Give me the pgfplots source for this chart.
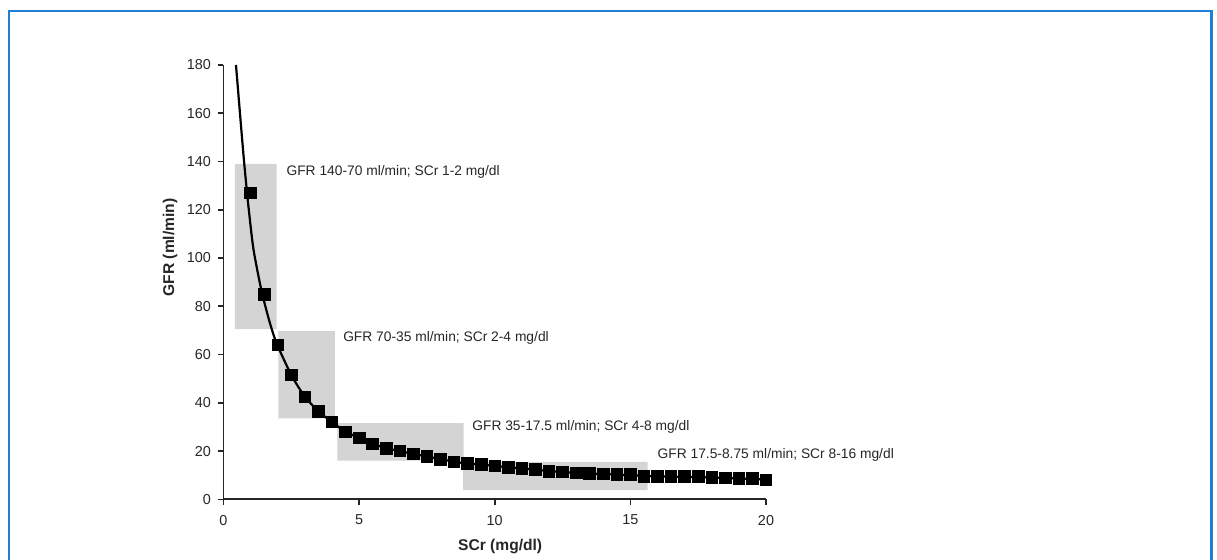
\documentclass[border=0pt]{standalone}
\usepackage{pgfplots}
\pgfplotsset{compat=1.18}
\usepackage{fontspec}
\setmainfont{Liberation Sans}
\definecolor{framblue}{HTML}{1F7FD6}
\begin{document}
\begin{tikzpicture}
\begin{axis}[
  at={(111.75pt,29.85pt)}, anchor=south west,
  scale only axis, width=271.25pt, height=217.15pt,
  xmin=0, xmax=20, ymin=0, ymax=180,
  axis lines=left, axis line style={-, line width=0.9pt, black!85},
  xtick={0,5,10,15,20}, ytick={0,20,...,180},
  tick align=outside, major tick length=2.8pt,
  tick style={line width=0.8pt, black!85},
  tick label style={font=\fontsize{7.2}{8}\selectfont, text=black!85},
  /pgf/number format/assume math mode=true,
  xticklabel style={yshift=-1.5pt},
  xlabel={\textbf{SCr (mg/dl)}},
  ylabel={\textbf{GFR (ml/min)}},
  label style={font=\fontsize{7.8}{9}\selectfont\bfseries, text=black!85},
  xlabel style={at={(axis description cs:0.51,-0.109)}, anchor=center},
  ylabel style={at={(axis description cs:-0.0986,0.58)}, anchor=center},
  clip=false,
]
% shaded ranges
\addplot[fill=black!17, draw=none] coordinates {(0.42,70.5) (1.96,70.5) (1.96,139) (0.42,139) (0.42,70.5)};
\addplot[fill=black!17, draw=none] coordinates {(2.02,33.5) (4.11,33.5) (4.11,69.7) (2.02,69.7) (2.02,33.5)};
\addplot[fill=black!17, draw=none] coordinates {(4.2,16) (8.85,16) (8.85,31.6) (4.2,31.6) (4.2,16)};
\addplot[fill=black!17, draw=none] coordinates {(8.83,3.8) (15.64,3.8) (15.64,15.5) (8.83,15.5) (8.83,3.8)};
% fitted curve
\addplot[black, line width=1.1pt, smooth, tension=0.4] coordinates {
(0.46,180) (0.6,161) (0.75,141) (0.9,123.5) (1.1,104) (1.4,86.5) (1.7,73.5) (1.96,64.6)
(2.5,51.5) (3,42.5) (3.5,36.5) (4,32) (4.5,28) (5,25.5) (5.5,23) (6,21.2) (6.5,20)
(7,18.8) (7.5,17.8) (8,16.6) (8.5,15.6) (9,14.8) (9.5,14.4) (10,13.8) (10.5,13.3)
(11,12.8) (11.5,12.3) (12,11.7) (12.5,11.3) (13,11) (13.5,10.7) (14,10.5) (14.5,10.2)
(15,10) (15.5,9.7) (16,9.5) (16.5,9.4) (17,9.3) (17.5,9.2) (18,9) (18.5,8.8) (19,8.6)
(19.5,8.5) (20,8.1)};
% data points
\addplot[only marks, mark=square*, mark size=2.9pt, black] coordinates {
(1,127) (1.5,85) (2,64) (2.5,51.5) (3,42.5) (3.5,36.5) (4,32) (4.5,28) (5,25.5)
(5.5,23) (6,21) (6.5,20) (7,18.8) (7.5,17.8) (8,16.5) (8.5,15.5) (9,14.8) (9.5,14.5)
(10,13.8) (10.5,13.3) (11,12.8) (11.5,12.3) (12,11.6) (12.5,11.3) (13,11) (13.5,10.7)
(14,10.5) (14.5,10.2) (15,10.2) (15.5,9.5) (16,9.5) (16.5,9.5) (17,9.4) (17.5,9.5)
(18,9.2) (18.5,8.8) (19,8.6) (19.5,8.6) (20,8)};
% annotations
\begin{scope}[every node/.style={anchor=west, inner sep=0pt, font=\fontsize{6.9}{8}\selectfont, text=black!85}]
\node at (axis cs:2.31,135.8) {GFR 140-70 ml/min; SCr 1-2 mg/dl};
\node at (axis cs:4.40,66.7) {GFR 70-35 ml/min; SCr 2-4 mg/dl};
\node at (axis cs:9.16,30.1) {GFR 35-17.5 ml/min; SCr 4-8 mg/dl};
\node at (axis cs:15.99,18.4) {GFR 17.5-8.75 ml/min; SCr 8-16 mg/dl};
\end{scope}
\end{axis}
\draw[framblue, line width=1.3pt] (4.5pt,-2pt) -- (4.5pt,274pt) -- (605.85pt,274pt) -- (605.85pt,-2pt);
\pgfresetboundingbox
\useasboundingbox (0,0) rectangle (608.5pt,279.5pt);
\end{tikzpicture}
\end{document}
